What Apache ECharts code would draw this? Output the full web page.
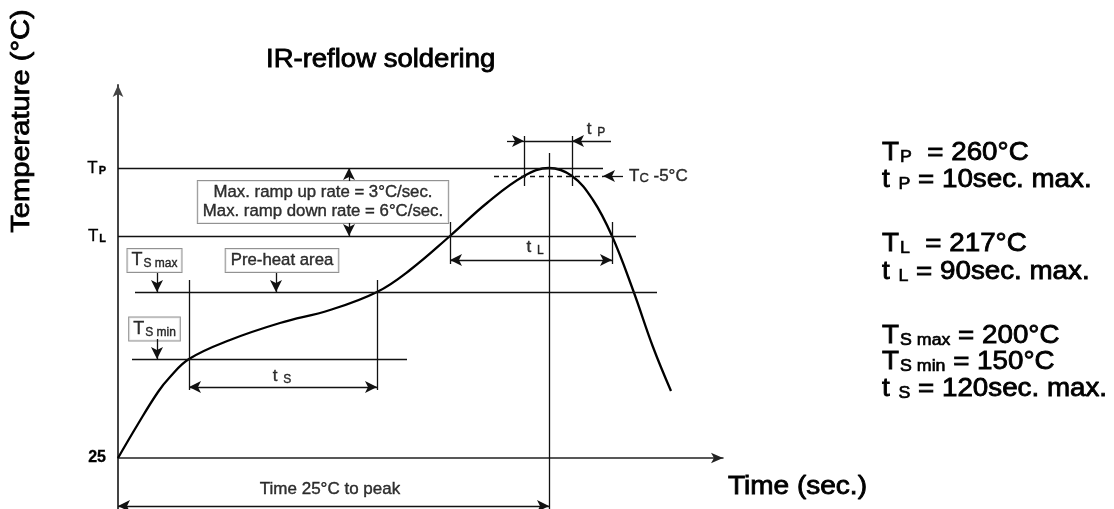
<!DOCTYPE html>
<html>
<head>
<meta charset="utf-8">
<script src="https://cdn.jsdelivr.net/npm/echarts@6/dist/echarts.min.js"></script>
<style>
  html, body { margin: 0; padding: 0; background: #fff; }
  #chart { width: 1114px; height: 509px; }
</style>
</head>
<body>
<div id="chart"></div>
<script>
// profile curve (diagram units: time -> right, temperature -> up, 0 = 25°C)
var curveTime = [0, 20, 40, 52, 71, 112, 162, 212, 259, 292, 332, 369, 406, 431, 454, 475, 494, 515, 535, 553];
var curveTemp = [0, 34, 66, 81, 99, 118, 135, 148, 166, 188, 222, 255, 282, 290, 282, 258, 222, 168, 111, 67];

// levels on the temperature axis
var levelValues = [0, 222, 290];
var levelNames = ['{b|25}', 'T{s|L}', 'T{s|P}'];

// guide segments [x1, y1, x2, y2]
var plainSegments = [
  [0, 290, 485, 290],     // Tp
  [0, 222, 518, 222],     // TL
  [17, 166, 539, 166],    // Ts max
  [14, 99, 289, 99],      // Ts min
  [431, 305, 431, -51],   // peak
  [406, 322, 406, 272], [454, 322, 454, 272], [406, 317, 454, 317],
  [332, 236, 332, 194], [494, 236, 494, 194],
  [71, 178, 71, 68], [259, 178, 259, 68]
];
var arrowSegments = [
  [389, 317, 406, 317], [493, 317, 454, 317],
  [505, 282, 485, 282],
  [231, 277, 231, 290], [231, 235, 231, 222],
  [39, 185, 39, 166], [158, 185, 158, 166], [39, 119, 39, 99]
];
var doubleArrowSegments = [
  [332, 198, 494, 198],
  [71, 71, 259, 71],
  [0, -48, 431, -48]
];
var dashedSegments = [
  [376, 282, 485, 282]
];

// text notes in diagram units
var boxNotes = [
  [205, 256, 'Max. ramp up rate = 3°C/sec.\nMax. ramp down rate = 6°C/sec.'],
  [36.5, 197.5, 'T{s|S max}'],
  [164, 197.5, 'Pre-heat area'],
  [36.5, 129, 'T{s|S min}']
];
var plainNotes = [
  [417, 211, 't {s|L}'],
  [164, 82, 't {s|S}'],
  [212, -31, 'Time 25°C to peak'],
  [478, 329, 't {s|P}']
];

var legendLines = [
  [153, 'T{s|P}  = 260°C'],
  [180, 't {s|P} = 10sec. max.'],
  [244, 'T{s|L}  = 217°C'],
  [272, 't {s|L} = 90sec. max.'],
  [336, 'T{s|S max} = 200°C'],
  [362, 'T{s|S min} = 150°C'],
  [389, 't {s|S} = 120sec. max.']
];

var FONT = 'Liberation Sans, Arial, sans-serif';

function seg(s, a, b) {
  var p0 = { coord: [s[0], s[1]] };
  var p1 = { coord: [s[2], s[3]] };
  if (a) { p0.symbol = 'arrow'; p0.symbolSize = [9, 12]; }
  if (b) { p1.symbol = 'arrow'; p1.symbolSize = [9, 12]; }
  return [p0, p1];
}

var lineData = [];
plainSegments.forEach(function (s) { lineData.push(seg(s, false, false)); });
arrowSegments.forEach(function (s) { lineData.push(seg(s, false, true)); });
doubleArrowSegments.forEach(function (s) { lineData.push(seg(s, true, true)); });
var dashData = dashedSegments.map(function (s) { return seg(s, false, false); });

var curve = curveTime.map(function (t, i) { return [t, curveTemp[i]]; });

// a thin outline makes Liberation look like the heavier print of the original
var subRich = {
  s: { fontSize: 12, fontFamily: FONT, verticalAlign: 'bottom', padding: [7, 0, 0, 1],
    textBorderColor: '#000', textBorderWidth: 0.4 }
};

var noteData = [];
boxNotes.forEach(function (n) {
  var isSym = n[2].indexOf('{') >= 0;
  noteData.push({
    value: [n[0], n[1]],
    label: {
      formatter: n[2],
      fontSize: isSym ? 18 : 16.8,
      lineHeight: 19,
      backgroundColor: '#fff',
      borderColor: '#777',
      borderWidth: 1,
      padding: isSym ? [2, 4, 2, 4] : [2, 5, 2, 5],
      rich: subRich
    }
  });
});
plainNotes.forEach(function (n) {
  noteData.push({
    value: [n[0], n[1]],
    label: { formatter: n[2], fontSize: 17, rich: subRich }
  });
});
noteData.push({
  value: [511, 282],
  label: { formatter: 'T{s|C} -5°C', fontSize: 17, position: 'right', distance: 0,
    rich: { s: { fontSize: 13, fontFamily: FONT, verticalAlign: 'bottom', padding: [5, 0, 0, 0],
      textBorderColor: '#000', textBorderWidth: 0.4 } } }
});

function bigText(text, size) {
  return { text: text, font: size + 'px ' + FONT, fill: '#000', stroke: '#000', lineWidth: 0.8,
    verticalAlign: 'middle' };
}

var graphics = [
  { type: 'text', x: 266, y: 60, scaleX: 1.1, style: bigText('IR-reflow soldering', 25) },
  { type: 'text', x: 22, y: 121, rotation: Math.PI / 2, scaleX: 1.12,
    style: Object.assign(bigText('Temperature (°C)', 26), { align: 'center' }) },
  { type: 'text', x: 728, y: 487, scaleX: 1.12, style: bigText('Time (sec.)', 25) }
];
legendLines.forEach(function (l) {
  var st = bigText(l[1], 25);
  st.rich = { s: { fontSize: 16, fontFamily: FONT, verticalAlign: 'bottom', padding: [10, 0, 0, 1],
    stroke: '#000', lineWidth: 0.6 } };
  graphics.push({ type: 'text', x: 882, y: l[0], scaleX: 1.11, style: st });
});

var myChart = echarts.init(document.getElementById('chart'));
var option = {
  backgroundColor: '#fff',
  animation: false,
  textStyle: { fontFamily: FONT },
  grid: { left: 118, top: 85, width: 605, height: 424 },
  xAxis: {
    type: 'value', min: 0, max: 605,
    axisLine: { onZero: true, symbol: ['none', 'arrow'], symbolSize: [8, 12],
      lineStyle: { color: '#222', width: 1.5 } },
    axisTick: { show: false }, axisLabel: { show: false }, splitLine: { show: false }
  },
  yAxis: {
    type: 'value', min: -51, max: 373,
    axisLine: { symbol: ['none', 'arrow'], symbolSize: [8, 12],
      lineStyle: { color: '#444', width: 2 } },
    axisTick: { show: false },
    axisLabel: {
      customValues: levelValues,
      margin: 12,
      fontSize: 17, color: '#000', fontFamily: FONT,
      textBorderColor: '#000', textBorderWidth: 0.3,
      formatter: function (v) {
        var i = levelValues.indexOf(v);
        return i < 0 ? '' : levelNames[i];
      },
      rich: {
        s: { fontSize: 11, fontWeight: 'bold', fontFamily: FONT, verticalAlign: 'bottom', padding: [6, 0, 0, 1] },
        b: { fontSize: 16, fontWeight: 'bold', fontFamily: FONT }
      }
    },
    splitLine: { show: false }
  },
  series: [
    {
      type: 'line', data: curve, smooth: 0.4, symbol: 'none',
      lineStyle: { color: '#000', width: 2.3 },
      markLine: {
        silent: true, symbol: ['none', 'none'],
        label: { show: false },
        lineStyle: { color: '#111', width: 1.3, type: 'solid' },
        emphasis: { disabled: true },
        data: lineData
      }
    },
    {
      type: 'line', data: [], symbol: 'none',
      markLine: {
        silent: true, symbol: ['none', 'none'],
        label: { show: false },
        lineStyle: { color: '#111', width: 1.3, type: [5, 4] },
        emphasis: { disabled: true },
        data: dashData
      }
    },
    {
      type: 'scatter', data: noteData, symbolSize: 0, silent: true,
      label: { show: true, position: 'inside', color: '#000', fontFamily: FONT,
        textBorderColor: '#000', textBorderWidth: 0.4 }
    }
  ],
  graphic: graphics
};
if (option && typeof option === 'object') {
  myChart.setOption(option, true);
}
</script>
</body>
</html>
